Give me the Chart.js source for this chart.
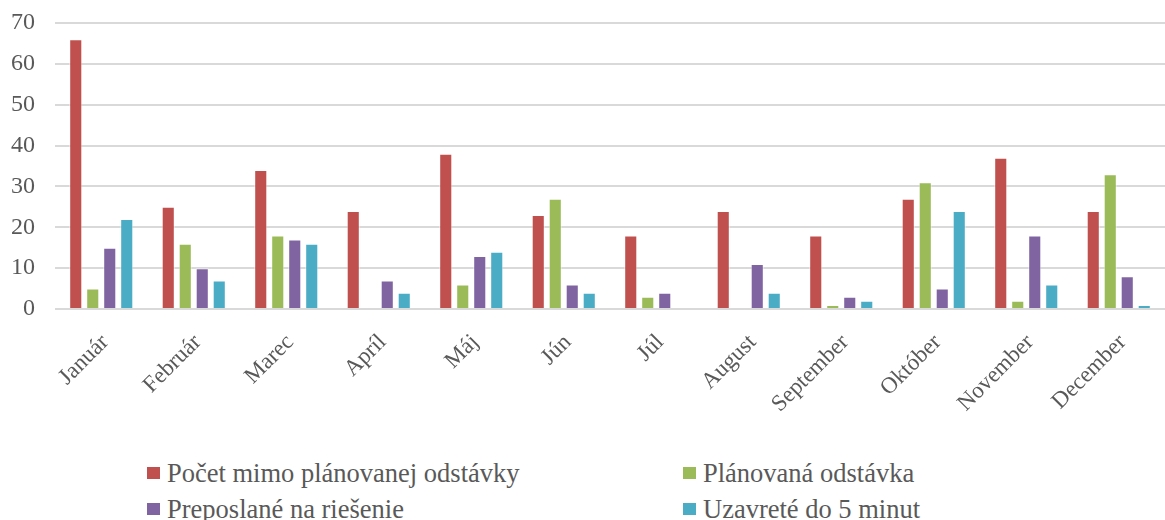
<!DOCTYPE html>
<html>
<head>
<meta charset="utf-8">
<script src="https://cdn.jsdelivr.net/npm/chart.js@4/dist/chart.umd.min.js"></script>
<style>
    html, body { margin: 0; padding: 0; background: #ffffff; }
    #wrap { position: relative; width: 1165px; height: 520px; }
    #chart-box { position: absolute; left: 0; top: 0; width: 1165px; height: 440px; }
    #legend {
        position: absolute; left: 147px; top: 455px;
        display: grid; grid-template-columns: 536px 400px;
        font-family: "Liberation Serif", "Times New Roman", Tinos, serif;
        font-size: 26.5px; color: #595959;
    }
    .item { display: flex; align-items: center; height: 36px; white-space: nowrap; }
    .swatch { width: 13px; height: 12px; margin-right: 7px; flex: none; }
</style>
</head>
<body>
<div id="wrap">
    <div id="chart-box"><canvas id="spending-chart"></canvas></div>
    <div id="legend"></div>
</div>
<script>
const months = ["Január", "Február", "Marec", "Apríl", "Máj", "Jún", "Júl", "August", "September", "Október", "November", "December"];

const seriesNames = ["Počet mimo plánovanej odstávky", "Plánovaná odstávka", "Preposlané na riešenie", "Uzavreté do 5 minut"];

const outsidePlanned = [66, 25, 34, 24, 38, 23, 18, 24, 18, 27, 37, 24];
const planned        = [5, 16, 18, 0, 6, 27, 3, 0, 1, 31, 2, 33];
const forwarded      = [15, 10, 17, 7, 13, 6, 4, 11, 3, 5, 18, 8];
const closedIn5      = [22, 7, 16, 4, 14, 4, 0, 4, 2, 24, 6, 1];

const yTicks = [0, 10, 20, 30, 40, 50, 60, 70];

const SERIES_COLORS = ["#c0504d", "#9bbb59", "#8064a2", "#4bacc6"];
const FONT = "'Liberation Serif', 'Times New Roman', Tinos, serif";

const seriesData = [outsidePlanned, planned, forwarded, closedIn5];

const datasets = seriesNames.map((name, i) => {
    return {
        label: name,
        data: seriesData[i],
        backgroundColor: SERIES_COLORS[i],
        borderColor: "rgba(255,255,255,0.5)",
        borderWidth: 1,
        borderSkipped: "bottom",
        categoryPercentage: 0.735,
        barPercentage: 0.77
    };
});

const ctx = document.getElementById("spending-chart").getContext("2d");

new Chart(ctx, {
    type: "bar",
    data: { labels: months, datasets },
    options: {
        responsive: true,
        maintainAspectRatio: false,
        animation: false,
        layout: { padding: { top: 23, right: 0, left: 0, bottom: 0 } },
        plugins: {
            legend: { display: false },
            tooltip: { enabled: false }
        },
        scales: {
            x: {
                grid: { display: false },
                border: { display: false },
                ticks: {
                    minRotation: 45,
                    maxRotation: 45,
                    padding: 12,
                    labelOffset: 4,
                    color: "#595959",
                    font: { family: FONT, size: 23 }
                },
                afterFit: scale => { scale.height = 131; }
            },
            y: {
                min: 0,
                max: 70,
                afterBuildTicks: scale => { scale.ticks = yTicks.map(v => ({ value: v })); },
                grid: { color: "#d9d9d9", lineWidth: 2, drawTicks: false },
                border: { display: false },
                ticks: {
                    padding: 20,
                    color: "#595959",
                    font: { family: FONT, size: 24 }
                },
                afterFit: scale => {
                    // keep the plot top fixed; the padding above handles the "70" label
                    scale.width = 55;
                    scale.paddingTop = 0;
                    scale.paddingBottom = 0;
                }
            }
        }
    }
});

// legend in two columns, like the reference
const legend = document.getElementById("legend");
[0, 1, 2, 3].forEach(i => {
    const div = document.createElement("div");
    div.className = "item";
    div.innerHTML = `<span class="swatch" style="background:${SERIES_COLORS[i]}"></span><span>${seriesNames[i]}</span>`;
    legend.appendChild(div);
});
</script>
</body>
</html>
